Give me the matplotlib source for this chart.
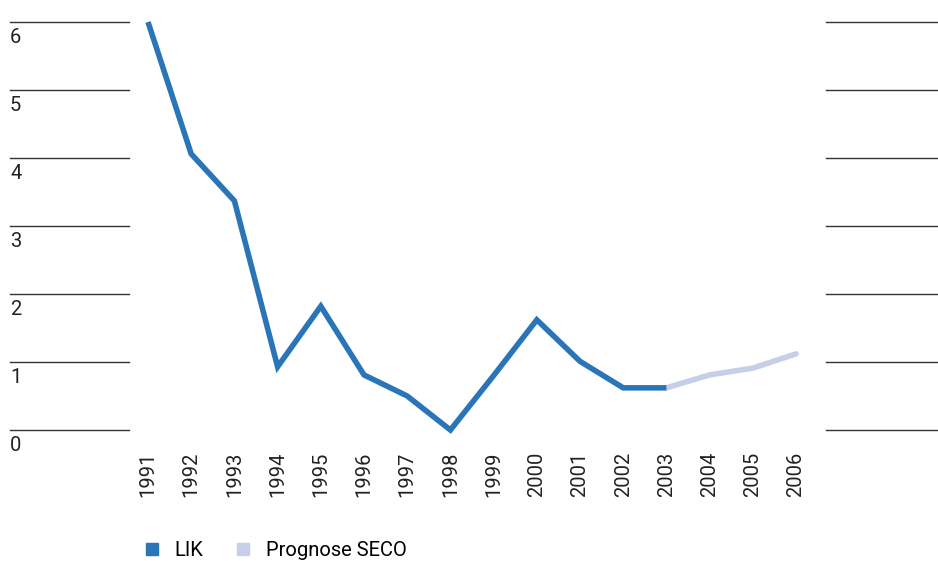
import matplotlib.pyplot as plt
from matplotlib.lines import Line2D

# Teuerung (LIK) in Prozent, ab 2003 Prognose SECO
jahre_lik = [1991, 1992, 1993, 1994, 1995, 1996, 1997, 1998, 1999, 2000, 2001, 2002, 2003]
lik = [6.0, 4.06, 3.37, 0.93, 1.82, 0.81, 0.5, 0.0, 0.8, 1.62, 1.01, 0.62, 0.62]
jahre_prog = [2003, 2004, 2005, 2006]
prognose = [0.62, 0.81, 0.91, 1.12]
y_ticks = [0, 1, 2, 3, 4, 5, 6]

blau = '#2a75b8'
hellblau = '#c5cfe8'
grau = '#333333'
plt.rcParams['font.family'] = ['Roboto', 'DejaVu Sans']

W, H = 938, 561
fig = plt.figure(figsize=(W / 100, H / 100), dpi=100)
# Achse über die ganze Breite, damit die Rasterlinien links und rechts aussen liegen
ax = fig.add_axes([0, (H - 430) / H, 1, 408 / H])
px_per_year = 43.2
x0 = 1991 - 148 / px_per_year
ax.set_xlim(x0, x0 + W / px_per_year)
ax.set_ylim(0, 6)
ax.axis('off')

for y in y_ticks:
    ax.axhline(y, xmin=10 / W, xmax=129 / W, color=grau, lw=1.0, clip_on=False)
    ax.axhline(y, xmin=826 / W, xmax=1.0, color=grau, lw=1.0, clip_on=False)
    ax.text(10 / W, y - 0.09, str(y), transform=ax.get_yaxis_transform(),
            ha='left', va='top', fontsize=14.5, color='#222222')

ax.plot(jahre_prog, prognose, color=hellblau, lw=4.0, solid_capstyle='round',
        solid_joinstyle='miter', clip_on=False)
ax.plot(jahre_lik, lik, color=blau, lw=4.0, solid_capstyle='butt',
        solid_joinstyle='miter', clip_on=False)

for j in range(1991, 2007):
    ax.text(j, -0.32, str(j), rotation=90, ha='center', va='top',
            fontsize=14.5, color='#222222')

handles = [Line2D([], [], ls='none', marker='s', markersize=9, color=blau),
           Line2D([], [], ls='none', marker='s', markersize=9, color=hellblau)]
fig.legend(handles, ['LIK', 'Prognose SECO'], loc='center left',
           bbox_to_anchor=(144 / W, 1 - 551 / H), ncol=2, frameon=False,
           fontsize=14.5, handlelength=0.8, handletextpad=0.7, columnspacing=1.6,
           borderaxespad=0, borderpad=0)

fig.savefig('out.png', dpi=100)
